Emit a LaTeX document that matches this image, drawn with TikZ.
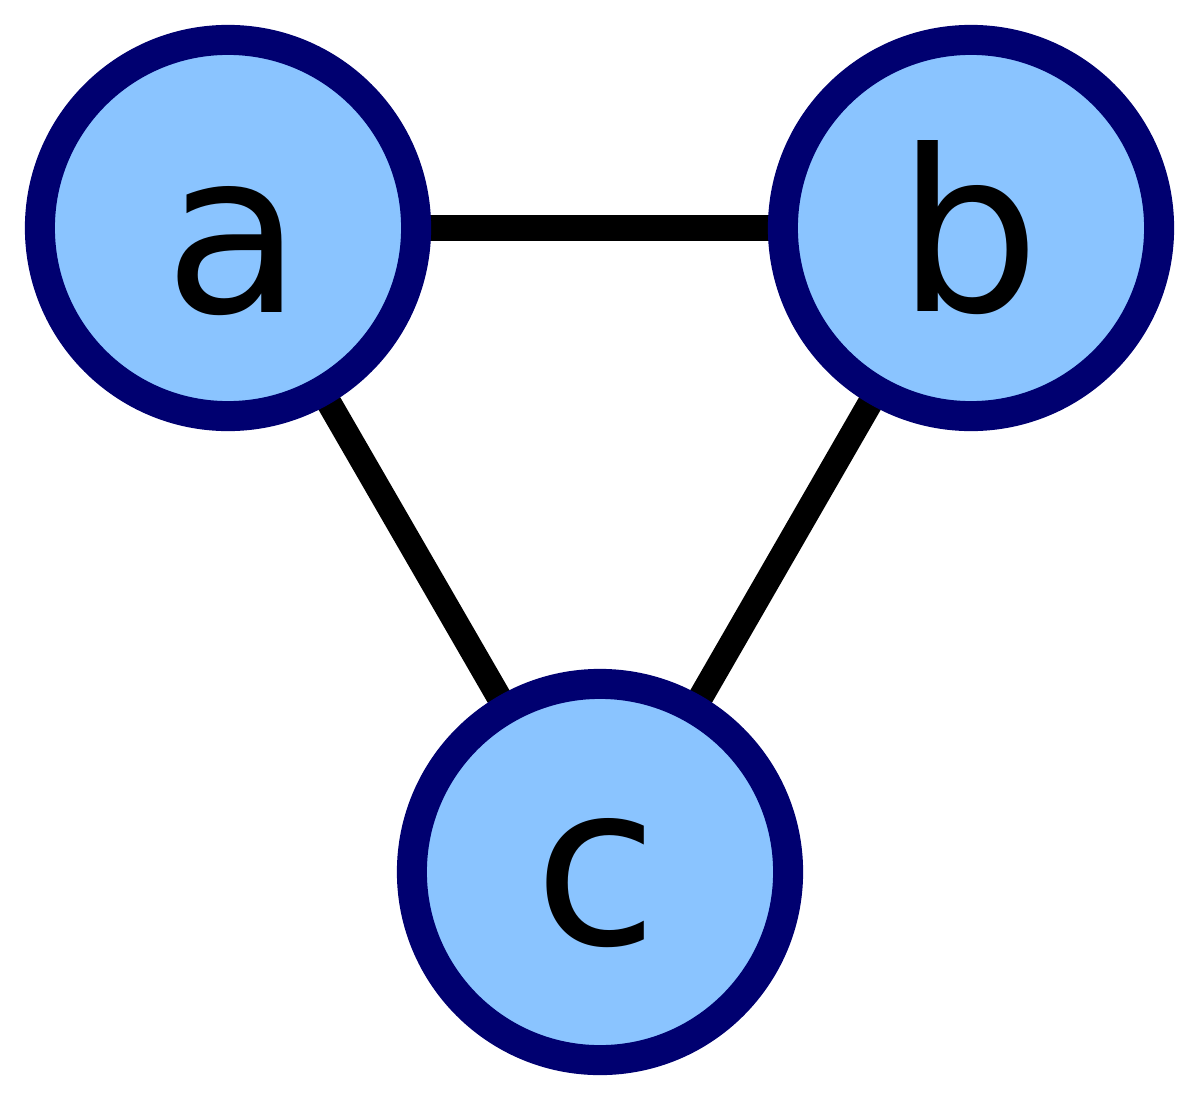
\documentclass[tikz,border=0pt]{standalone}
\usepackage{fontspec}
\setmainfont{DejaVu Sans}
\definecolor{vfill}{RGB}{138,196,255}
\definecolor{vline}{RGB}{0,0,112}
\begin{document}
\begin{tikzpicture}[x=0.01cm,y=-0.01cm,
  vertex/.style={circle,draw=vline,fill=vfill,line width=0.3cm,minimum size=3.76cm,inner sep=0pt},
  edge/.style={line width=0.25cm,black},
  lbl/.style={anchor=base,inner sep=0pt,font=\fontsize{64pt}{64pt}\selectfont}]
\useasboundingbox (0,0) rectangle (1200,1100);
\coordinate (pa) at (228,228);
\coordinate (pb) at (971,228);
\coordinate (pc) at (600,872);
\draw[edge] (pa) -- (pb);
\draw[edge] (pa) -- (pc);
\draw[edge] (pb) -- (pc);
\node[vertex] (a) at (pa) {};
\node[vertex] (b) at (pb) {};
\node[vertex] (c) at (pc) {};
\node[lbl] (la) at (233,312) {a};
\node[lbl] (lb) at (969,311) {b};
\node[lbl] (lc) at (596,944) {c};
\end{tikzpicture}
\end{document}
